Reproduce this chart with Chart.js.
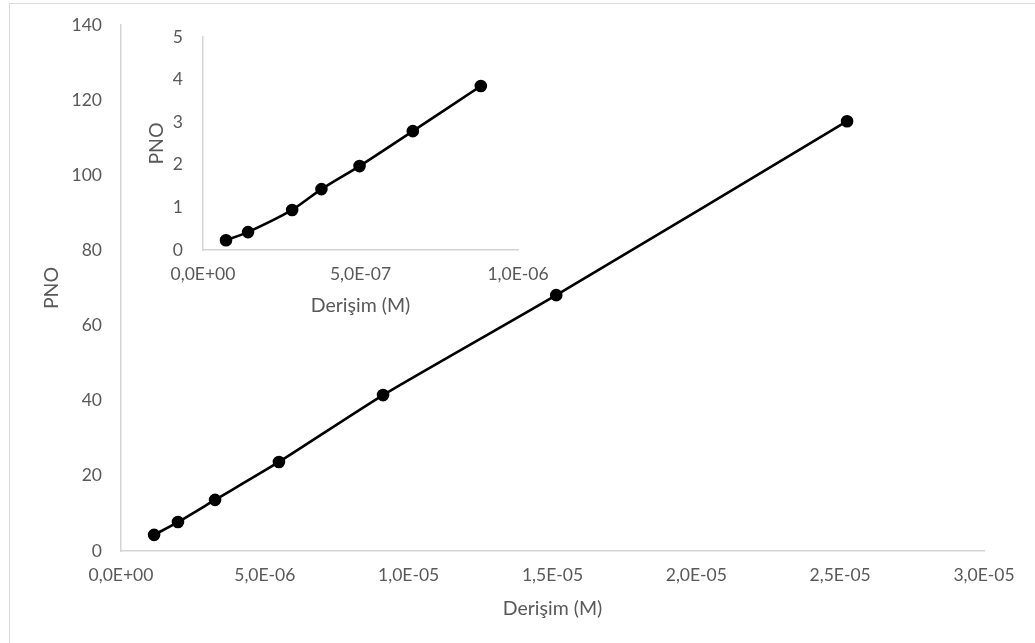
<!DOCTYPE html>
<html>
<head>
<meta charset="utf-8">
<title>PNO - Derişim</title>
<script src="https://cdn.jsdelivr.net/npm/chart.js"></script>
<style>
  html, body { margin: 0; padding: 0; background: #fff; }
  body { width: 1035px; height: 643px; position: relative; overflow: hidden; }
  .frame { position: absolute; left: 9px; top: 3px; width: 1040px; height: 660px; border: 1px solid #d9d9d9; }
  #main { position: absolute; left: 0; top: 0; }
  #inset { position: absolute; left: 140px; top: 20px; }
</style>
</head>
<body>
<div class="frame"></div>
<canvas id="main" width="1035" height="643"></canvas>
<canvas id="inset" width="460" height="300"></canvas>
<script>
// main series: concentration (M) vs PNO
const mainX = [1.15e-6, 1.98e-6, 3.27e-6, 5.49e-6, 9.11e-6, 1.513e-5, 2.524e-5];
const mainY = [4.3, 7.7, 13.6, 23.7, 41.5, 68.1, 114.4];

// low-concentration series shown in the small chart
const insetX = [7.3e-8, 1.43e-7, 2.83e-7, 3.76e-7, 4.97e-7, 6.66e-7, 8.82e-7];
const insetY = [0.23, 0.42, 0.94, 1.43, 1.97, 2.79, 3.85];

const xTitle = 'Derişim (M)';
const yTitle = 'PNO';

const FONT = 'Lato, "Open Sans", sans-serif';
const GREY = '#595959';
const AXIS = '#d4d4d4';

// Excel style scientific label: 5,0E-06
function sci(v) {
  const [m, e] = Number(v).toExponential(1).split('e');
  const n = parseInt(e, 10);
  const sign = n < 0 ? '-' : '+';
  return m.replace('.', ',') + 'E' + sign + String(Math.abs(n)).padStart(2, '0');
}

function points(xs, ys) {
  return xs.map((x, i) => ({ x: x, y: ys[i] }));
}

function makeChart(id, cfg) {
  return new Chart(document.getElementById(id), {
    type: 'scatter',
    data: {
      datasets: [{
        data: points(cfg.xs, cfg.ys),
        showLine: true,
        borderColor: '#000',
        backgroundColor: '#000',
        borderWidth: 2.6,
        pointRadius: 5,
        pointHoverRadius: 5,
        tension: 0.2
      }]
    },
    options: {
      responsive: false,
      animation: false,
      events: [],
      layout: { padding: cfg.padding },
      plugins: { legend: { display: false }, tooltip: { enabled: false } },
      scales: {
        x: {
          type: 'linear',
          min: 0, max: cfg.xMax,
          afterBuildTicks: s => { s.ticks = cfg.xTicks.map(v => ({ value: v })); },
          grid: { display: false, drawTicks: false },
          border: { color: AXIS, width: 1.5 },
          ticks: { callback: v => sci(v), color: GREY, font: { family: FONT, size: cfg.tickSize }, padding: cfg.xPad, maxRotation: 0 },
          title: { display: true, text: xTitle, color: GREY, font: { family: FONT, size: cfg.titleSize }, padding: { top: 0, bottom: cfg.xTitleOff } },
          afterFit: s => { s.height = cfg.xHeight; s.paddingLeft = 0; s.paddingRight = 0; }
        },
        y: {
          type: 'linear',
          min: 0, max: cfg.yMax,
          ticks: { stepSize: cfg.yStep, color: GREY, font: { family: FONT, size: cfg.tickSize }, padding: cfg.yPad },
          grid: { display: false, drawTicks: false },
          border: { color: AXIS, width: 1.5 },
          title: { display: true, text: yTitle, color: GREY, font: { family: FONT, size: cfg.titleSize }, padding: { top: cfg.yTitleOff, bottom: 0 } },
          // fixed plot box, no extra room for the end labels
          afterFit: s => { s.width = cfg.yWidth; s.paddingTop = 0; s.paddingBottom = 0; }
        }
      }
    }
  });
}

makeChart('main', {
  xs: mainX, ys: mainY,
  xMax: 3e-5, xTicks: [0, 5e-6, 1e-5, 1.5e-5, 2e-5, 2.5e-5, 3e-5],
  yMax: 140, yStep: 20,
  padding: { left: 0, top: 25, right: 51, bottom: 0 },
  yWidth: 121, xHeight: 92,
  tickSize: 17.5, titleSize: 19.5,
  xPad: 14, yPad: 19,
  xTitleOff: 23, yTitleOff: 40
});

makeChart('inset', {
  xs: insetX, ys: insetY,
  xMax: 1e-6, xTicks: [0, 5e-7, 1e-6],
  yMax: 5, yStep: 1,
  padding: { left: 0, top: 17, right: 82, bottom: 0 },
  yWidth: 63, xHeight: 70,
  tickSize: 17.5, titleSize: 19.5,
  xPad: 14, yPad: 20,
  xTitleOff: 3, yTitleOff: 5
});
</script>
</body>
</html>
